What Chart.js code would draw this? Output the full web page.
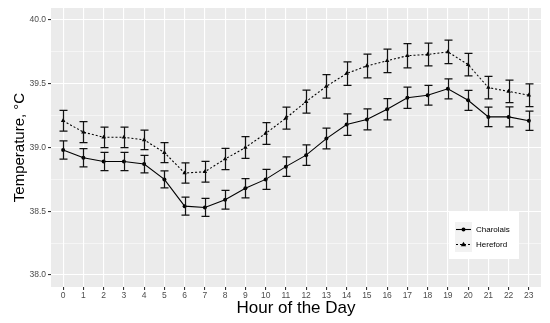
<!DOCTYPE html>
<html>
<head>
<meta charset="utf-8">
<script src="https://cdn.jsdelivr.net/npm/chart.js@4"></script>
<style>
  html, body { margin: 0; padding: 0; background: #fff; }
  #wrap { width: 550px; height: 323px; }
</style>
</head>
<body>
<div id="wrap"><canvas id="tempChart"></canvas></div>
<script>
// hours along the x axis
const hours = [0,1,2,3,4,5,6,7,8,9,10,11,12,13,14,15,16,17,18,19,20,21,22,23]

// mean body temperature per breed
const charolais = [38.98,38.92,38.89,38.89,38.87,38.75,38.54,38.53,38.59,38.68,38.75,38.85,
                   38.94,39.07,39.18,39.22,39.30,39.39,39.41,39.46,39.37,39.24,39.24,39.21]
const charolaisErr = [0.071,0.071,0.071,0.071,0.069,0.067,0.071,0.071,0.073,0.076,0.078,0.076,
                      0.080,0.081,0.084,0.082,0.084,0.084,0.078,0.078,0.078,0.077,0.078,0.076]

const hereford = [39.21,39.12,39.08,39.08,39.06,38.96,38.80,38.81,38.91,39.00,39.11,39.23,
                  39.36,39.48,39.58,39.64,39.68,39.72,39.73,39.75,39.65,39.47,39.44,39.41]
const herefordErr = [0.081,0.082,0.080,0.080,0.077,0.078,0.080,0.081,0.084,0.085,0.086,0.086,
                     0.090,0.092,0.092,0.093,0.092,0.095,0.089,0.092,0.089,0.088,0.088,0.089]

// y axis: labelled ticks plus minor grid lines in between
const yMajor = [38.0, 38.5, 39.0, 39.5, 40.0]
const yMinor = [38.25, 38.75, 39.25, 39.75]

const legendLabels = ["Charolais", "Hereford"]

const FONT = "'Liberation Sans', Arial, sans-serif"

const toPoints = (ys) => hours.map((h, i) => ({x: h, y: ys[i]}))

// grey ggplot-style panel
const panelBg = {
    id: "panelBg",
    beforeDraw(chart) {
        const {ctx, chartArea: a} = chart
        ctx.save()
        ctx.fillStyle = "#ebebeb"
        ctx.fillRect(a.left, a.top, a.right - a.left, a.bottom - a.top)
        ctx.restore()
    }
}

// vertical error bars with caps
const errorBars = {
    id: "errorBars",
    afterDatasetsDraw(chart) {
        const {ctx, scales: {x, y}} = chart
        const sets = [[charolais, charolaisErr], [hereford, herefordErr]]
        ctx.save()
        ctx.strokeStyle = "#111"
        ctx.lineWidth = 1.25
        sets.forEach(([vals, errs]) => {
            vals.forEach((v, i) => {
                const px = Math.round(x.getPixelForValue(hours[i])) + 0.5
                const top = y.getPixelForValue(v + errs[i])
                const bot = y.getPixelForValue(v - errs[i])
                ctx.beginPath()
                ctx.moveTo(px, top); ctx.lineTo(px, bot)
                ctx.moveTo(px - 4, top); ctx.lineTo(px + 4, top)
                ctx.moveTo(px - 4, bot); ctx.lineTo(px + 4, bot)
                ctx.stroke()
            })
        })
        ctx.restore()
    }
}

// legend box inside the panel, bottom right
const boxLegend = {
    id: "boxLegend",
    afterDraw(chart) {
        const {ctx} = chart
        const bx = 449, by = 212, bw = 70, bh = 47
        ctx.save()
        ctx.fillStyle = "#fff"
        ctx.fillRect(bx, by, bw, bh)
        const rows = [229.5, 244.5]
        rows.forEach((cy, i) => {
            ctx.fillStyle = "#f2f2f2"
            ctx.fillRect(455, cy - 7.5, 17, 15)
            ctx.strokeStyle = "#000"
            ctx.lineWidth = 1.1
            ctx.setLineDash(i === 0 ? [] : [2, 2])
            ctx.beginPath()
            ctx.moveTo(456, cy); ctx.lineTo(471, cy)
            ctx.stroke()
            ctx.setLineDash([])
            ctx.fillStyle = "#000"
            ctx.beginPath()
            if (i === 0) {
                ctx.arc(463.5, cy, 2, 0, Math.PI * 2)
            } else {
                ctx.moveTo(463.5, cy - 2.8); ctx.lineTo(466.2, cy + 1.8); ctx.lineTo(460.8, cy + 1.8)
                ctx.closePath()
            }
            ctx.fill()
            ctx.font = "8px " + FONT
            ctx.textBaseline = "middle"
            ctx.fillStyle = "#000"
            ctx.fillText(legendLabels[i], 476, cy)
        })
        ctx.restore()
    }
}

const isMajorY = (v) => yMajor.some(m => Math.abs(m - v) < 1e-6)

new Chart(document.getElementById("tempChart"), {
    type: "line",
    data: {
        datasets: [{
            label: legendLabels[0],
            data: toPoints(charolais),
            borderColor: "#000",
            backgroundColor: "#000",
            borderWidth: 1.1,
            pointStyle: "circle",
            pointRadius: 2,
            pointBorderWidth: 0,
            tension: 0
        }, {
            label: legendLabels[1],
            data: toPoints(hereford),
            borderColor: "#000",
            backgroundColor: "#000",
            borderWidth: 1.1,
            borderDash: [2, 2],
            pointStyle: "triangle",
            pointRadius: 2.6,
            pointBorderWidth: 0,
            tension: 0
        }]
    },
    options: {
        responsive: true,
        maintainAspectRatio: false,
        animation: false,
        layout: {padding: {top: 8, right: 9, left: 0, bottom: 0}},
        plugins: {legend: {display: false}, tooltip: {enabled: false}},
        scales: {
            x: {
                type: "linear",
                min: -0.6,
                max: 23.6,
                afterBuildTicks: (s) => { s.ticks = hours.map(h => ({value: h})) },
                afterFit: (s) => { s.height = 36 },
                border: {display: false},
                grid: {color: "#fff", lineWidth: 1.1, tickColor: "#333", tickLength: 3},
                ticks: {
                    color: "#4d4d4d",
                    font: {family: FONT, size: 8.5},
                    padding: 1,
                    maxRotation: 0,
                    autoSkip: false,
                    callback: (v) => String(v)
                },
                title: {
                    display: true,
                    text: "Hour of the Day",
                    color: "#000",
                    font: {family: FONT, size: 17},
                    padding: {top: 0, bottom: 4}
                }
            },
            y: {
                min: 37.906,
                max: 40.094,
                afterBuildTicks: (s) => {
                    s.ticks = yMajor.concat(yMinor).sort((a, b) => a - b).map(v => ({value: v}))
                },
                afterFit: (s) => { s.width = 51 },
                border: {display: false},
                grid: {
                    color: "#fff",
                    lineWidth: (c) => isMajorY(c.tick.value) ? 1.1 : 0.5,
                    tickColor: (c) => isMajorY(c.tick.value) ? "#333" : "rgba(0,0,0,0)",
                    tickLength: 3
                },
                ticks: {
                    color: "#4d4d4d",
                    font: {family: FONT, size: 8.5},
                    padding: 2,
                    autoSkip: false,
                    callback: (v) => isMajorY(v) ? v.toFixed(1) : ""
                },
                title: {
                    display: true,
                    text: "Temperature, °C",
                    color: "#000",
                    font: {family: FONT, size: 15},
                    padding: {top: 11, bottom: 0}
                }
            }
        }
    },
    plugins: [panelBg, errorBars, boxLegend]
})
</script>
</body>
</html>
